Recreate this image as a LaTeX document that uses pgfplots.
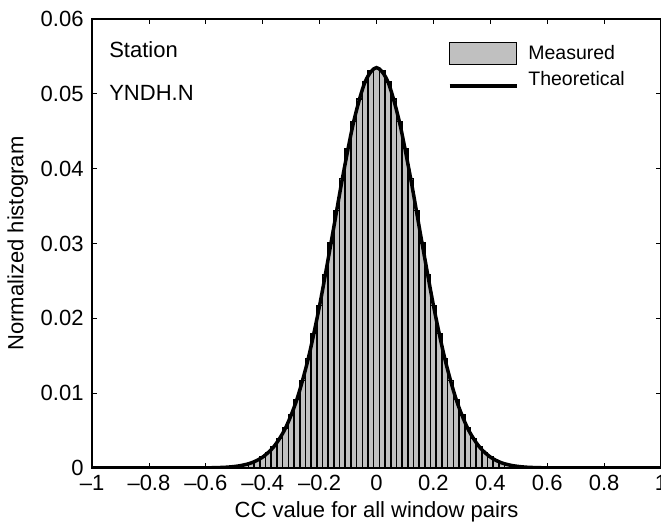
\documentclass[border=0pt]{standalone}
\usepackage{pgfplots}
\pgfplotsset{compat=1.18}
\usepackage{pgfplotstable}
\usepackage{fontspec}
\setmainfont{Liberation Sans}
\definecolor{bargray}{RGB}{192,192,192}
\pgfplotstableread{
x y
-0.60 0.000016
-0.58 0.000027
-0.56 0.000046
-0.54 0.000075
-0.52 0.00012
-0.50 0.00019
-0.48 0.00030
-0.46 0.00046
-0.44 0.00068
-0.42 0.00101
-0.40 0.00146
-0.38 0.00207
-0.36 0.00289
-0.34 0.00396
-0.32 0.00533
-0.30 0.00705
-0.28 0.00915
-0.26 0.01167
-0.24 0.01462
-0.22 0.01799
-0.20 0.02173
-0.18 0.02579
-0.16 0.03006
-0.14 0.03441
-0.12 0.03868
-0.10 0.04271
-0.08 0.04632
-0.06 0.04933
-0.04 0.05161
-0.02 0.05302
0.00 0.05350
0.02 0.05302
0.04 0.05161
0.06 0.04933
0.08 0.04632
0.10 0.04271
0.12 0.03868
0.14 0.03441
0.16 0.03006
0.18 0.02579
0.20 0.02173
0.22 0.01799
0.24 0.01462
0.26 0.01167
0.28 0.00915
0.30 0.00705
0.32 0.00533
0.34 0.00396
0.36 0.00289
0.38 0.00207
0.40 0.00146
0.42 0.00101
0.44 0.00068
0.46 0.00046
0.48 0.00030
0.50 0.00019
0.52 0.00012
0.54 0.000075
0.56 0.000046
0.58 0.000027
0.60 0.000016
}\measured
\pgfplotstableread{
x y
-1.00 0
-0.90 0
-0.80 0
-0.70 0
-0.64 0.000005
-0.60 0.000016
-0.56 0.000046
-0.52 0.00012
-0.48 0.00030
-0.44 0.00068
-0.40 0.00146
-0.36 0.00289
-0.32 0.00533
-0.28 0.00915
-0.24 0.01462
-0.20 0.02173
-0.16 0.03006
-0.12 0.03868
-0.08 0.04632
-0.04 0.05161
0.00 0.05350
0.04 0.05161
0.08 0.04632
0.12 0.03868
0.16 0.03006
0.20 0.02173
0.24 0.01462
0.28 0.00915
0.32 0.00533
0.36 0.00289
0.40 0.00146
0.44 0.00068
0.48 0.00030
0.52 0.00012
0.56 0.000046
0.60 0.000016
0.64 0.000005
0.70 0
0.80 0
0.90 0
1.00 0
}\theory
\begin{document}
\fontsize{22}{26}\selectfont
\begin{tikzpicture}[trim axis right]
\begin{axis}[
  scale only axis,
  width=569pt, height=449pt,
  xmin=-1, xmax=1, ymin=0, ymax=0.06,
  scaled y ticks=false,
  xtick={-1,-0.8,-0.6,-0.4,-0.2,0,0.2,0.4,0.6,0.8,1},
  xticklabels={\textendash1,\textendash0.8,\textendash0.6,\textendash0.4,\textendash0.2,0,0.2,0.4,0.6,0.8,1},
  ytick={0,0.01,0.02,0.03,0.04,0.05,0.06},
  yticklabels={0,0.01,0.02,0.03,0.04,0.05,0.06},
  tick align=inside,
  major tick length=5pt,
  tick style={black, line width=0.8pt},
  axis line style={line width=1.5pt},
  ticklabel style={font=\fontsize{22}{26}\selectfont},
  yticklabel style={xshift=-1pt},
  label style={font=\fontsize{22}{26}\selectfont},
  xlabel={CC value for all window pairs},
  ylabel={Normalized histogram},
  xlabel style={yshift=4pt},
  ylabel style={yshift=-2pt},
  legend style={draw=none, fill=none, at={(0.625,0.949)}, anchor=north west,
    font=\fontsize{19.5}{23}\selectfont, row sep=4pt, inner sep=0pt,
    /tikz/every odd column/.append style={column sep=8pt}},
  legend cell align=left,
]
\addplot[ybar, bar width=0.02, bar shift=0pt, fill=bargray, draw=black, line width=1.6pt,
  area legend,
  legend image code/.code={\draw[fill=bargray, draw=black, line width=1pt] (0,-11pt) rectangle (67pt,11pt);}]
  table[x=x,y=y]{\measured};
\addlegendentry{Measured}
\addplot[black, line width=3.5pt, smooth,
  legend image code/.code={\draw[black, line width=3.5pt] (0,-6pt) -- (67pt,-6pt);}]
  table[x=x,y=y]{\theory};
\addlegendentry{Theoretical}
\node[anchor=west, inner sep=0pt] at (rel axis cs:0.030,0.931) {Station};
\node[anchor=west, inner sep=0pt] at (rel axis cs:0.030,0.835) {YNDH.N};
\end{axis}
\path (current axis.north west) ++(0,19pt);
\end{tikzpicture}
\end{document}
